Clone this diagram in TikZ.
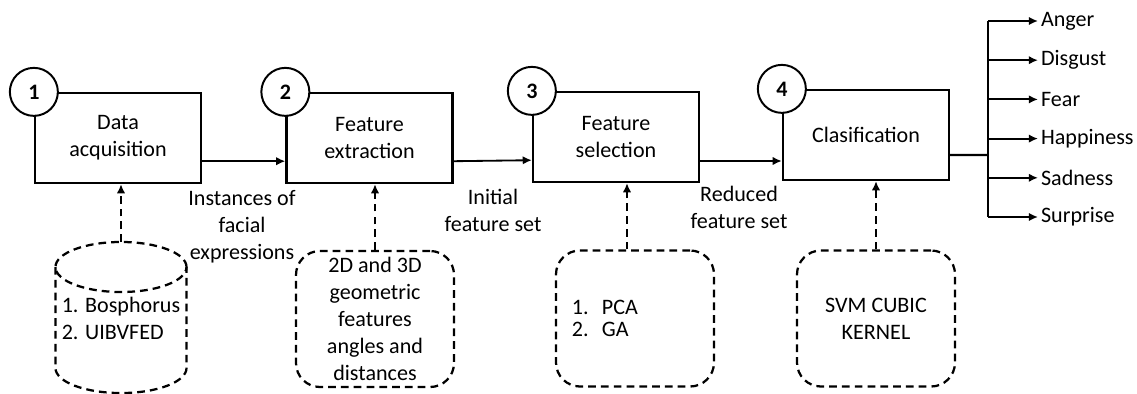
\documentclass[tikz,border=0pt]{standalone}
\usepackage{fontspec}
\setmainfont{Carlito}
\usetikzlibrary{arrows.meta}
\usetikzlibrary{positioning}
\newcommand{\bodyfont}{\fontsize{15.7}{19.2}\selectfont}
\tikzset{
  stage/.style = {draw, line width=1.6pt, minimum width=4.15cm,
    minimum height=2.25cm, align=center, inner sep=0pt},
  stepnum/.style = {circle, draw, fill=white, line width=1.4pt,
    minimum size=1.2cm, inner sep=0pt, font=\bodyfont\bfseries},% numbered step
  dashline/.style = {line width=1.6pt, dash pattern=on 5.5pt off 3.6pt},
  tool/.style = {draw, dashline, rounded corners=0.6cm, minimum width=3.95cm,
    minimum height=3.4cm, align=center},
  flow/.style = {->, line width=1.3pt},
  feed/.style = {->, dashline}
}
\begin{document}
\begin{tikzpicture}[x=0.025cm,y=-0.025cm,>={Latex[length=6.5pt,width=6pt]},
  font=\bodyfont]
\useasboundingbox (0,0) rectangle (1137,394);
% stages
\node [stage] (b1) at (118,138) {Data\\acquisition};
\node [stage] (b2) at (369.5,138) {Feature\\extraction};
\node [stage] (b3) at (616,137) {Feature\\selection};
\node [stage] (b4) at (866,135) {Clasification};
\node [stepnum] (n1) at (b1.north west) {1};
\node [stepnum] (n2) at (b2.north west) {2};
\node [stepnum] (n3) at (b3.north west) {3};
\node [stepnum] (n4) at (b4.north west) {4};
% database (cylinder)
\coordinate (top1) at (121,267);
\coordinate (t1top) at (121,242);
\draw [dashline] (top1) ellipse [x radius=1.6375cm, y radius=0.625cm];
\draw [dashline] ([xshift=-1.6375cm]top1) -- ++(0,-2.525cm)
  arc [start angle=180, end angle=360, x radius=1.6375cm, y radius=0.625cm]
  -- ([xshift=1.6375cm]top1);
\node [align=left] (t1) at (121,318) {1. Bosphorus\\2. UIBVFED};
% methods below
\node [tool] (t2) at (375,319) {2D and 3D\\geometric\\features\\angles and\\distances};
\node [tool, text width=3.15cm, align=left] (t3) at (635,318.5)
  {\makebox[0.75cm][l]{1.}PCA\\[-3pt]\makebox[0.75cm][l]{2.}GA\\[2pt]};
\node [tool] (t4) at (876,318.5) {SVM CUBIC\\KERNEL};
% edge labels
\node [align=center] (l1) at (242,227) {Instances of\\facial\\expressions};
\node [align=center] (l2) at (493,210) {Initial\\feature set};
\node [align=center] (l3) at (739,207) {Reduced\\feature set};
% flow
\draw [flow] ([yshift=-0.58cm]b1.east) -- ([yshift=-0.58cm]b2.west);
\draw [flow] ([yshift=-0.58cm]b2.east) -- ([yshift=-0.58cm]b3.west);
\draw [flow] ([yshift=-0.6cm]b3.east) -- ([yshift=-0.65cm]b4.west);
\draw [feed] (t1top) -- (t1top |- b1.south);
\draw [feed] (t2.north) -- (t2.north |- b2.south);
\draw [feed] ([xshift=-0.2cm]t3.north) -- ([xshift=-0.2cm]t3.north |- b3.south);
\draw [feed] (t4.north) -- (t4.north |- b4.south);
% emotions
\foreach \emo [count=\i] in {Anger,Disgust,Fear,Happiness,Sadness,Surprise}
  \node [anchor=west, inner sep=2pt] (e\i) at (1038,{21+39.2*(\i-1)}) {\emo};
\coordinate (hub) at (988,155);
\draw [line width=1.6pt] ([yshift=-0.5cm]b4.east) -- (hub);
\draw [line width=1.6pt] (hub |- e1.west) -- (hub |- e6.west);
\foreach \i in {1,...,6}
  \draw [flow] (hub |- e\i.west) -- (e\i.west);
\end{tikzpicture}
\end{document}
